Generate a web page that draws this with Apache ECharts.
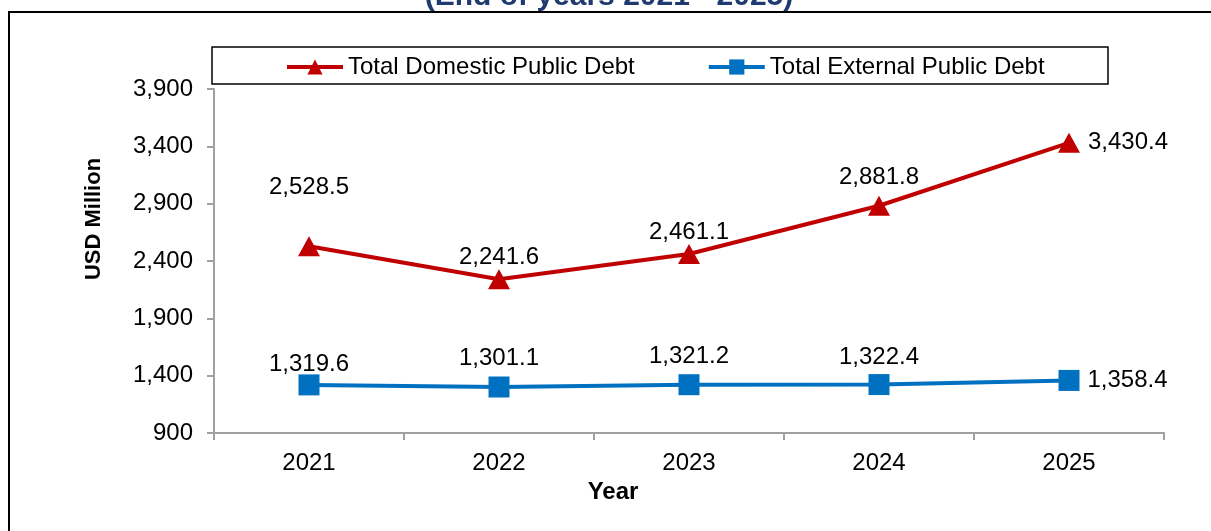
<!DOCTYPE html>
<html>
<head>
<meta charset="utf-8">
<script src="https://cdn.jsdelivr.net/npm/echarts@6/dist/echarts.min.js"></script>
<style>
  html, body { margin: 0; padding: 0; background: #fff; }
  #chart { width: 1211px; height: 531px; }
</style>
</head>
<body>
<div id="chart"></div>
<script>
// Public debt stock, end of year, USD million
const years = ['2021', '2022', '2023', '2024', '2025'];
const domesticDebt = [2528.5, 2241.6, 2461.1, 2881.8, 3430.4];
const externalDebt = [1319.6, 1301.1, 1321.2, 1322.4, 1358.4];
const yTicks = { min: 900, max: 3900, step: 500 };

const FONT = '"Liberation Sans", Arial, sans-serif';
const RED = '#C00000';
const BLUE = '#0070C0';

const fmt = v => v.toLocaleString('en-US', { minimumFractionDigits: 1, maximumFractionDigits: 1 });

// per-point label placement: gap above the marker; the last point is labelled on its right
const domDist = [37, 0, 0, 6, 0];
const extDist = [-2, 6, 6, 5, 0];

function buildData(values, dists) {
  return values.map((v, i) => {
    const last = i === values.length - 1;
    return {
      value: v,
      label: last
        ? { position: 'right', distance: 8 }
        : { position: 'top', distance: dists[i] }
    };
  });
}

const labelStyle = {
  show: true,
  formatter: p => fmt(p.value),
  color: '#000',
  fontFamily: FONT,
  fontSize: 24
};

const chart = echarts.init(document.getElementById('chart'), null, { renderer: 'canvas' });

chart.setOption({
  backgroundColor: '#fff',
  animation: false,
  textStyle: { fontFamily: FONT },
  graphic: [
    {
      type: 'rect',
      shape: { x: 9, y: 12, width: 1230, height: 560 },
      style: { fill: 'none', stroke: '#000', lineWidth: 2 },
      silent: true
    },
    {
      type: 'rect',
      shape: { x: 212, y: 47, width: 896, height: 37 },
      style: { fill: '#fff', stroke: '#000', lineWidth: 1.5 },
      silent: true,
      z: -1
    },
    {
      type: 'text',
      x: 609,
      y: 12,
      style: {
        text: '(End of years 2021 - 2025)',
        fill: '#1F3A6E',
        font: 'bold 30px ' + FONT,
        align: 'center',
        verticalAlign: 'bottom'
      },
      silent: true
    },
    {
      type: 'text',
      x: 94,
      y: 219,
      rotation: Math.PI / 2,
      style: {
        text: 'USD Million',
        fill: '#000',
        font: 'bold 22px ' + FONT,
        align: 'center',
        verticalAlign: 'middle'
      },
      silent: true
    },
    {
      type: 'text',
      x: 613,
      y: 492,
      style: {
        text: 'Year',
        fill: '#000',
        font: 'bold 24px ' + FONT,
        align: 'center',
        verticalAlign: 'middle'
      },
      silent: true
    }
  ],
  legend: {
    data: ['Total Domestic Public Debt', 'Total External Public Debt'],
    top: 55,
    left: 285,
    itemWidth: 56,
    itemHeight: 19,
    itemGap: 72,
    padding: 0,
    lineStyle: { width: 4 },
    textStyle: { fontSize: 24, color: '#000', fontFamily: FONT }
  },
  grid: { left: 214, right: 47, top: 89, bottom: 98, containLabel: false },
  xAxis: {
    type: 'category',
    data: years,
    boundaryGap: true,
    axisLine: { lineStyle: { color: '#A0A0A0', width: 2 } },
    axisTick: { show: true, alignWithLabel: false, length: 7, lineStyle: { color: '#A0A0A0', width: 2 } },
    axisLabel: { color: '#000', fontSize: 24, margin: 18, fontFamily: FONT }
  },
  yAxis: {
    type: 'value',
    min: yTicks.min,
    max: yTicks.max,
    interval: yTicks.step,
    axisLine: { show: true, lineStyle: { color: '#A0A0A0', width: 2 } },
    axisTick: { show: true, length: 7, lineStyle: { color: '#A0A0A0', width: 2 } },
    splitLine: { show: false },
    axisLabel: {
      color: '#000',
      fontSize: 24,
      margin: 21,
      fontFamily: FONT,
      formatter: v => v.toLocaleString('en-US')
    }
  },
  series: [
    {
      name: 'Total Domestic Public Debt',
      type: 'line',
      data: buildData(domesticDebt, domDist),
      symbol: 'triangle',
      symbolSize: [22, 20],
      lineStyle: { color: RED, width: 4 },
      itemStyle: { color: RED },
      label: labelStyle
    },
    {
      name: 'Total External Public Debt',
      type: 'line',
      data: buildData(externalDebt, extDist),
      symbol: 'rect',
      symbolSize: 21,
      lineStyle: { color: BLUE, width: 4 },
      itemStyle: { color: BLUE },
      label: labelStyle
    }
  ]
});
</script>
</body>
</html>
